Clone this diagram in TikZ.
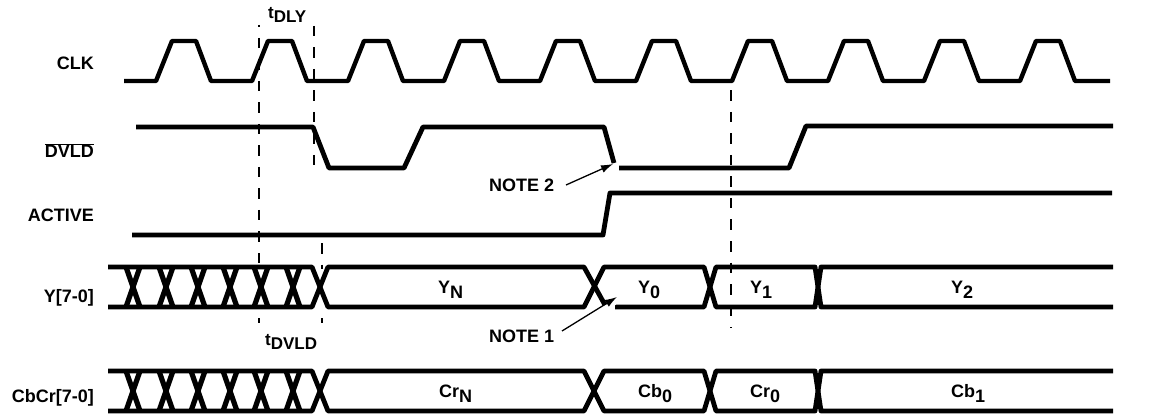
\documentclass[tikz,border=0pt]{standalone}
\usepackage{fontspec}
\setmainfont{Liberation Sans}
\usetikzlibrary{arrows.meta}
\tikzset{
  sig/.style={line width=4.8pt,line join=round,black},
  leg/.style={line width=5.2pt,black},
  dsh/.style={line width=1.4pt,dash pattern=on 10.5pt off 11pt,black},
  lab/.style={font=\bfseries\fontsize{18}{20}\selectfont,inner sep=0pt,text=black},
  tlab/.style={font=\bfseries\fontsize{17}{18}\selectfont,inner sep=0pt,text=black},
  notearrow/.style={line width=1.3pt,-{Latex[length=12pt,width=8pt]},black},
  cut/.style={line width=1.6pt,white}
}
\newcommand{\bussig}[2]{%
  \foreach \c in {133,166,198,230,261,293}{
    \draw[leg] (\c-7,#1) -- (\c+7,#2);
    \draw[leg] (\c-7,#2) -- (\c+7,#1);
  }
  \draw[sig] (108,#1) -- (312,#1) -- (328,#2) -- (584,#2) -- (604,#1) -- (704,#1) -- (716,#2) -- (815,#2) -- (821,#1) -- (1113,#1);
}
\newcommand{\dat}[2]{#1\raisebox{-5pt}{#2}}
\begin{document}
\begin{tikzpicture}[x=1pt,y=-1pt]
\useasboundingbox (0,0) rectangle (1151,414);
% dashed guides
\coordinate (d1a) at (259,25); \coordinate (d1b) at (259,263);
\coordinate (d1c) at (259,318); \coordinate (d1d) at (259,323);
\coordinate (d2a) at (314,26); \coordinate (d2b) at (314,167);
\coordinate (d3a) at (322,243); \coordinate (d3b) at (322,269);
\coordinate (d3c) at (322,318); \coordinate (d3d) at (322,323);
\coordinate (d4a) at (731,90.5); \coordinate (d4b) at (731,328);
\draw[dsh,dash phase=8.5] (d1a) -- (d1b);
\draw[line width=1.4pt] (d1c) -- (d1d);
\draw[dsh] (d2a) -- (d2b);
\draw[dsh] (d3a) -- (d3b);
\draw[line width=1.4pt] (d3c) -- (d3d);
\draw[dsh] (d4a) -- (d4b);
% CLK
\draw[sig,line width=4.4pt] (124,81)
  \foreach \s in {156,252,348,444,540,636,732,828,924,1020}{
    -- (\s,81) -- (\s+16,41) -- (\s+40,41) -- (\s+55,81)
  } -- (1110,81);
% DVLD
\draw[sig] (136,127) -- (313,127) -- (329,168) -- (404,168) -- (423,127) -- (604,127) -- (614,163);
\draw[sig] (619,168) -- (789,168) -- (806,126) -- (1113,126);
% ACTIVE
\draw[sig] (132,235) -- (603,235) -- (610,193) -- (1112,193);
% buses
\bussig{267}{307}
\draw[sig] (108,307) -- (312,307) -- (328,267) -- (584,267) -- (605,305);
\draw[sig] (615,307) -- (704,307) -- (716,267) -- (815,267) -- (821,307) -- (1113,307);
\bussig{371}{411}
\draw[sig] (108,411) -- (312,411) -- (328,371) -- (584,371) -- (604,411) -- (704,411) -- (716,371) -- (815,371) -- (821,411) -- (1113,411);
% cuts and note arrows
\coordinate (c2a) at (611,172); \coordinate (c2b) at (618.5,164.5);
\draw[cut] (c2a) -- (c2b);
\coordinate (c1a) at (609,311); \coordinate (c1b) at (616,303);
\draw[cut] (c1a) -- (c1b);
\node[lab,anchor=base west] (note2) at (489,192) {NOTE 2};
\node[lab,anchor=base west] (note1) at (489,342) {NOTE 1};
\coordinate (n2s) at (566,185); \coordinate (n2t) at (613,164);
\coordinate (n1s) at (562,331); \coordinate (n1t) at (617,297);
\draw[notearrow] (n2s) -- (n2t);
\draw[notearrow] (n1s) -- (n1t);
% signal names
\node[lab,anchor=base east] (clk) at (94,70) {CLK};
\node[lab,anchor=base east] (dvld) at (94,158) {$\overline{\mbox{DVLD}}$};
\node[lab,anchor=base east] (active) at (94,222) {ACTIVE};
\node[lab,anchor=base east] (y) at (94,302) {Y[7-0]};
\node[lab,anchor=base east] (cbcr) at (94,402) {CbCr[7-0]};
% timing labels
\node[tlab,anchor=base west] (tdly) at (268,18.5) {t\raisebox{-4pt}{DLY}};
\node[tlab,anchor=base west] (tdvld) at (265,345) {t\raisebox{-4pt}{DVLD}};
% data
\node[lab,anchor=base west] (yn) at (438,293) {\dat{Y}{N}};
\node[lab,anchor=base west] (y0) at (638,293) {\dat{Y}{0}};
\node[lab,anchor=base west] (y1) at (750,293) {\dat{Y}{1}};
\node[lab,anchor=base west] (y2) at (951,293) {\dat{Y}{2}};
\node[lab,anchor=base west] (crn) at (439,397) {\dat{Cr}{N}};
\node[lab,anchor=base west] (cb0) at (638,397) {\dat{Cb}{0}};
\node[lab,anchor=base west] (cr0) at (750,397) {\dat{Cr}{0}};
\node[lab,anchor=base west] (cb1) at (951,397) {\dat{Cb}{1}};
\end{tikzpicture}
\end{document}
